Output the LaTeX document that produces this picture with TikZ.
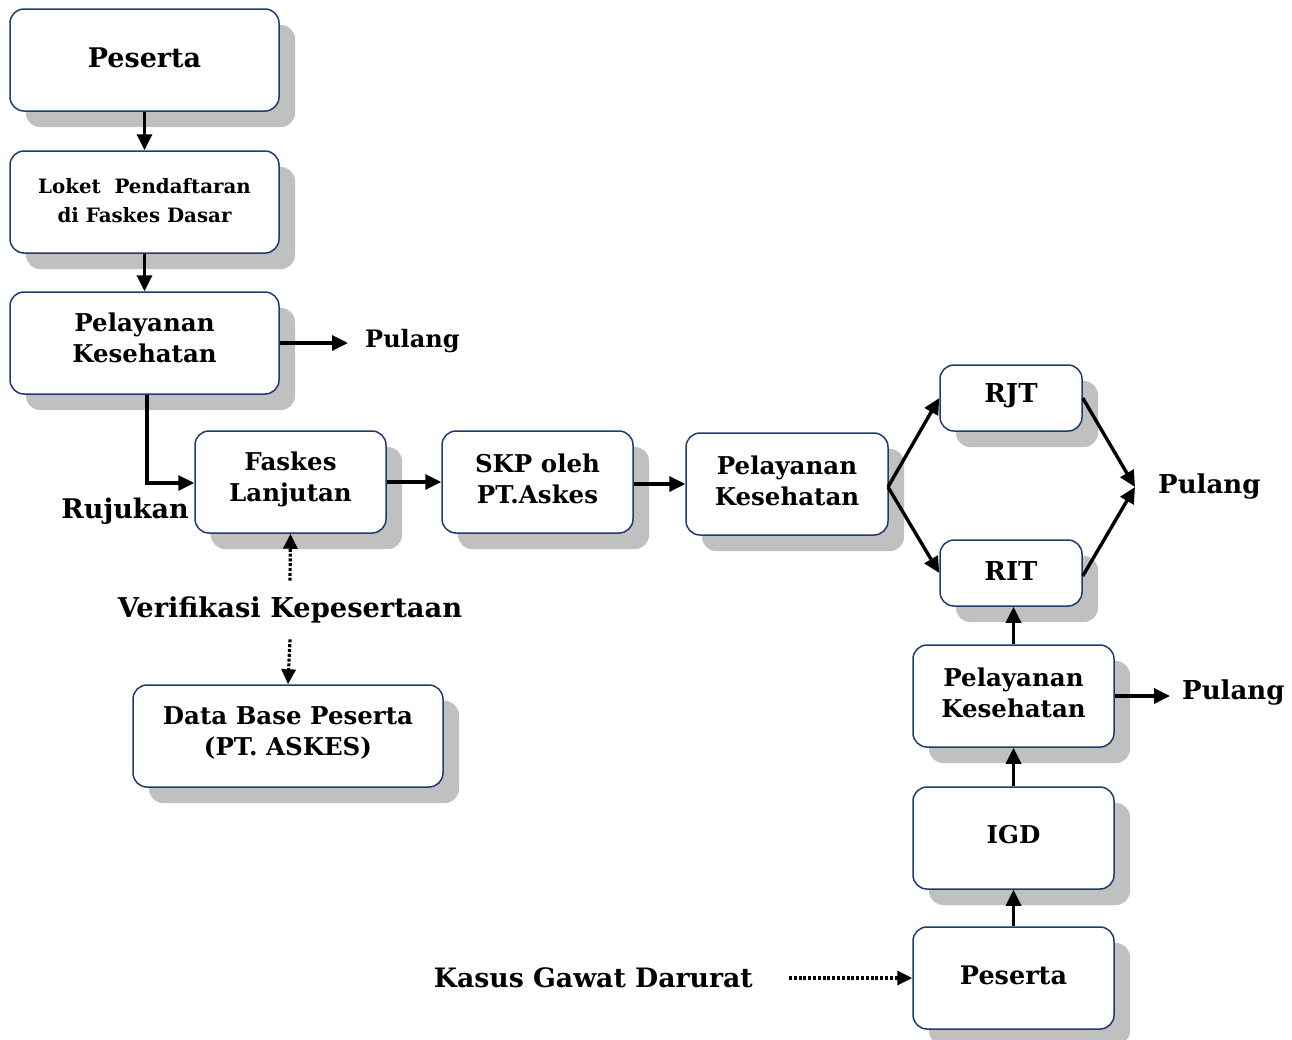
\documentclass[tikz,border=0pt]{standalone}
\usepackage{fontspec}
\setmainfont{DejaVu Serif}
\usetikzlibrary{shadows,arrows.meta}
\definecolor{navy}{HTML}{1F3B73}
\definecolor{shgray}{HTML}{C0C0C0}
\tikzset{
  box/.style={draw=navy, line width=1.5pt, rounded corners=14pt, fill=white,
    inner sep=0pt, general shadow={fill=shgray, shadow xshift=16pt, shadow yshift=-16pt}},
  txt/.style={font=\bfseries\fontsize{24.5}{31}\selectfont, align=center, inner sep=0pt},
  lbl/.style={font=\bfseries\fontsize{24}{30}\selectfont, inner sep=0pt},
  arr/.style={line width=3.4pt, -{Triangle[length=16pt,width=15pt]}},
  dotarr/.style={line width=3.2pt, dash pattern=on 3pt off 1.8pt, -{Triangle[length=15pt,width=14pt]}}
}
\begin{document}
\begin{tikzpicture}[x=1pt,y=-1pt]
\useasboundingbox (0,0) rectangle (1292,1039);
% boxes
\node[box, minimum width=269pt, minimum height=102pt] (p1) at (144.5,60) {};
\node[box, minimum width=269pt, minimum height=102pt] (loket) at (144.5,202) {};
\node[box, minimum width=269pt, minimum height=102pt] (pk1) at (144.5,343) {};
\node[box, minimum width=191pt, minimum height=102pt] (faskes) at (290.5,482) {};
\node[box, minimum width=191pt, minimum height=102pt] (skp) at (537.5,482) {};
\node[box, minimum width=202pt, minimum height=102pt] (pk2) at (787,484) {};
\node[box, minimum width=142pt, minimum height=66pt] (rjt) at (1011,398) {};
\node[box, minimum width=142pt, minimum height=66pt] (rit) at (1011,573) {};
\node[box, minimum width=201pt, minimum height=102pt] (pk3) at (1013.5,696) {};
\node[box, minimum width=201pt, minimum height=102pt] (igd) at (1013.5,838) {};
\node[box, minimum width=201pt, minimum height=102pt] (p2) at (1013.5,978) {};
\node[box, minimum width=310pt, minimum height=102pt] (db) at (288,736) {};
% texts
\node[txt, font=\bfseries\fontsize{27}{31}\selectfont] (tp1) at ([yshift=2pt]p1.center) {Peserta};
\node[txt, font=\bfseries\fontsize{19.8}{29}\selectfont] (tloket) at ([yshift=1pt]loket.center) {Loket\ \ Pendaftaran\\di Faskes Dasar};
\node[txt] (tpk1) at ([yshift=5pt]pk1.center) {Pelayanan\\Kesehatan};
\node[txt] (tfaskes) at ([yshift=3pt]faskes.center) {Faskes\\Lanjutan};
\node[txt] (tskp) at ([yshift=3pt]skp.center) {SKP oleh\\PT.Askes};
\node[txt] (tpk2) at ([yshift=3pt]pk2.center) {Pelayanan\\Kesehatan};
\node[txt, font=\bfseries\fontsize{26}{31}\selectfont] (trjt) at ([yshift=2pt]rjt.center) {RJT};
\node[txt, font=\bfseries\fontsize{26}{31}\selectfont] (trit) at ([yshift=2pt]rit.center) {RIT};
\node[txt] (tpk3) at ([yshift=3pt]pk3.center) {Pelayanan\\Kesehatan};
\node[txt] (tigd) at ([yshift=3pt]igd.center) {IGD};
\node[txt, font=\bfseries\fontsize{25.5}{31}\selectfont] (tp2) at ([yshift=3pt]p2.center) {Peserta};
\node[txt] (tdb) at ([yshift=3pt]db.center) {Data Base Peserta\\(PT. ASKES)};
% labels
\node[lbl, anchor=west] (pulang1) at (365,341) {Pulang};
\node[lbl, anchor=west, font=\bfseries\fontsize{26}{30}\selectfont] (pulang2) at (1158,487) {Pulang};
\node[lbl, anchor=west, font=\bfseries\fontsize{26}{30}\selectfont] (pulang3) at (1182,692) {Pulang};
\node[lbl, anchor=east, font=\bfseries\fontsize{27}{30}\selectfont] (rujukan) at (189,511) {Rujukan};
\node[lbl, inner ysep=16pt, font=\bfseries\fontsize{27.3}{30}\selectfont] (verif) at (290,610) {Verifikasi Kepesertaan};
\node[lbl, anchor=east, font=\bfseries\fontsize{26.7}{30}\selectfont] (kasus) at (753,978) {Kasus Gawat Darurat};
\coordinate (cp2) at (1135,487);
\coordinate (corner) at (147,483);
\coordinate (pk2out) at (888,487);
% connectors
\draw[arr] (p1.south) -- (loket.north);
\draw[arr] (loket.south) -- (pk1.north);
\draw[arr] (pk1.east) -- ([xshift=-17pt]pulang1.west |- pk1.east);
\draw[arr] ([xshift=2.5pt]pk1.south) -- (corner) -- (faskes.west |- corner);
\draw[arr] (faskes.east) -- (skp.west);
\draw[arr] (skp.east |- pk2.west) -- (pk2.west);
\draw[arr] (pk2out) -- (rjt.west);
\draw[arr] (pk2out) -- (rit.west);
\draw[arr] (rjt.east) -- (cp2);
\draw[arr] ([yshift=-3pt]rit.east) -- (cp2);
\draw[arr] (pk3.north) -- (pk3.north |- rit.south);
\draw[arr] (igd.north) -- (pk3.south);
\draw[arr] (p2.north) -- (igd.south);
\draw[arr] (pk3.east) -- ([xshift=-12pt]pulang3.west |- pk3.east);
\draw[dotarr] (verif.north) -- (faskes.south);
\draw[dotarr] (verif.south) -- (db.north);
\draw[dotarr] ([xshift=36pt]kasus.east) -- (p2.west);
\end{tikzpicture}
\end{document}
